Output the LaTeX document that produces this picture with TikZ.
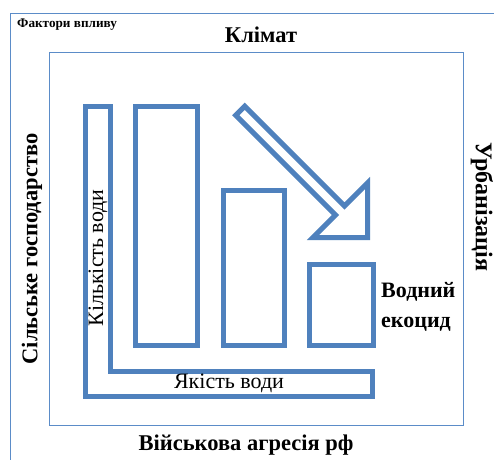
\documentclass[tikz,border=0pt]{standalone}
\usepackage{fontspec}
\setmainfont{Liberation Serif}
\definecolor{barblue}{HTML}{4F81BD}
\definecolor{frameblue}{HTML}{5B8CC8}
\begin{document}
\begin{tikzpicture}[x=1pt,y=-1pt,
  frame/.style={draw=frameblue,line width=1.6pt},
  bar/.style={draw=barblue,line width=5pt,line join=miter},
  factor/.style={font=\bfseries\fontsize{22.5}{24}\selectfont,inner sep=0pt},
  inlabel/.style={font=\fontsize{22}{24}\selectfont,inner sep=0pt}]
\useasboundingbox (0,0) rectangle (494,459);
\fill[white] (0,0) rectangle (494,459);
\begin{scope}
  \clip (0,0) rectangle (494,459);
  % outer frame runs past the page on the right and bottom
  \draw[frame] (10.5,13.5) rectangle (520,490);
\end{scope}
% inner frame
\draw[frame] (49.5,52.5) rectangle (463.5,425.5);
% L-shaped quantity/quality bar
\draw[bar] (85.5,106.5) -- (110.5,106.5) -- (110.5,371.5) -- (372.5,371.5)
  -- (372.5,396.5) -- (85.5,396.5) -- cycle;
% three decreasing columns
\draw[bar] (135.5,106.5) rectangle (197.5,345.5);
\draw[bar] (223.5,190.5) rectangle (284.5,345.5);
\draw[bar] (309.5,264.5) rectangle (373.5,345.5);
% downward trend arrow
\draw[bar] (244.75,106.25) -- (344.5,206) -- (367.5,183) -- (367.5,237.5)
  -- (313,237.5) -- (335.5,215) -- (235.75,115.25) -- cycle;
% labels
\node[font=\bfseries\fontsize{13.2}{15}\selectfont,inner sep=0pt,anchor=west] (factors) at (17,25) {Фактори впливу};
\node[factor] (climate) at (261,35) {Клімат};
\node[font=\bfseries\fontsize{24}{26}\selectfont,inner sep=0pt,rotate=-90] (urban) at (482,207) {Урбанізація};
\node[factor,rotate=90] (agri) at (32,249) {Сільське господарство};
\node[factor] (war) at (246,445) {Військова агресія рф};
\node[font=\bfseries\fontsize{22}{30}\selectfont,inner sep=0pt,align=left,anchor=west] (ecocide) at (381,307) {Водний\\екоцид};
\node[inlabel,rotate=90] (quantity) at (98,258) {Кількість води};
\node[inlabel] (quality) at (229,383) {Якість води};
\end{tikzpicture}
\end{document}
